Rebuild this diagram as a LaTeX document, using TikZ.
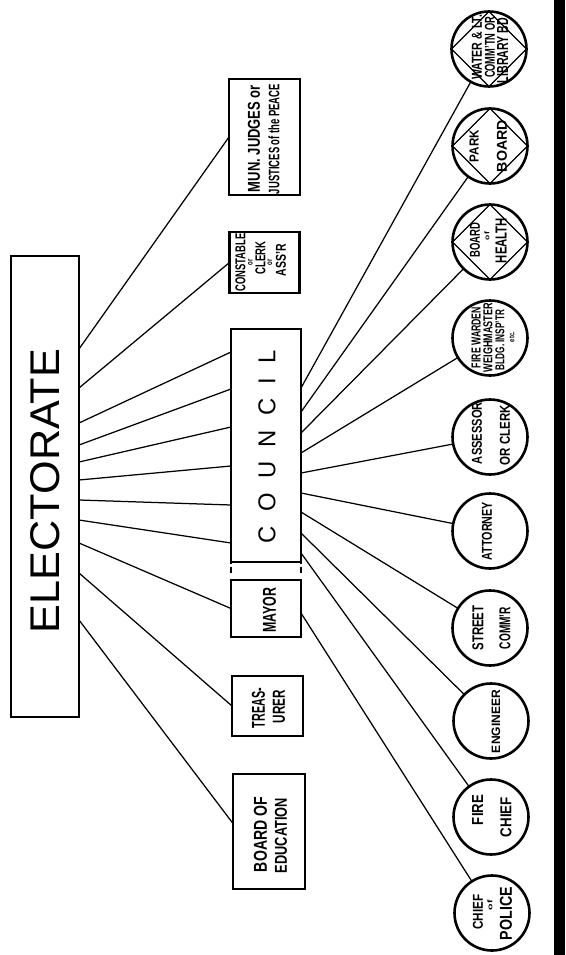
\documentclass[tikz,border=0pt]{standalone}
\usepackage{fontspec}
\setmainfont{Liberation Sans}
\usepackage{graphicx}

% one line of lettering, stretched to a given length and cap height
\newcommand\fitline[3]{\resizebox{#1pt}{#2pt}{#3}}

\tikzset{
  frame/.style={draw, line width=2.6pt, inner sep=0pt, outer sep=0pt},
  ring/.style={circle, draw, line width=2.6pt, minimum size=75pt, inner sep=0pt, outer sep=0pt},
  lbl/.style={rotate=90, inner sep=0pt, font=\bfseries},
  title/.style={rotate=90, inner sep=0pt},
  wire/.style={line width=1.25pt},
  rhomb/.style={line width=1.2pt},
}

\begin{document}
\begin{tikzpicture}[x=1pt, y=-1pt]
\useasboundingbox (0,0) rectangle (565,955);

% heavy rule on the right margin
\fill (554,0) rectangle (565,955);

% ---- boxes ----
\node[frame, minimum width=68pt, minimum height=461pt] (elect) at (45,486.5) {};
\node[frame, minimum width=71pt, minimum height=116pt] (mun) at (264.5,137) {};
\node[frame, minimum width=70pt, minimum height=61pt] (const) at (264.5,262.5) {};
\node[frame, minimum width=70pt, minimum height=233pt] (council) at (266,445.5) {};
\node[frame, minimum width=70pt, minimum height=57pt] (mayor) at (266,608.5) {};
\node[frame, minimum width=71pt, minimum height=60pt] (treas) at (267.5,706) {};
\node[frame, minimum width=72pt, minimum height=115pt] (boe) at (269,831.5) {};

% broken link between council and mayor
\draw[line width=1.6pt, dash pattern=on 1.5pt off 3pt on 6pt off 20pt] (council.south west) -- (mayor.north west);
\draw[line width=1.6pt, dash pattern=on 1.5pt off 3pt on 6pt off 20pt] (council.south east) -- (mayor.north east);

% ---- circles ----
\node[ring] (water) at (489,49) {};
\node[ring] (park) at (490,146) {};
\node[ring] (health) at (490,242) {};
\node[ring] (warden) at (490,338) {};
\node[ring] (assessor) at (490,437) {};
\node[ring] (attorney) at (490,531) {};
\node[ring] (street) at (490,628) {};
\node[ring] (engineer) at (491,721) {};
\node[ring] (firechief) at (491,817) {};
\node[ring] (police) at (492,913) {};

% inscribed diamonds of the boards
\foreach \c in {water, park, health}
  \draw[rhomb] (\c.north) -- (\c.east) -- (\c.south) -- (\c.west) -- cycle;

% ---- electorate to elected offices ----
\draw[wire] ([yshift=-93pt]elect.north east) -- (mun.west);
\draw[wire] ([yshift=-132pt]elect.north east) -- (const.west);
\draw[wire] ([yshift=-167pt]elect.north east) -- ([yshift=-23pt]council.north west);
\draw[wire] ([yshift=-189pt]elect.north east) -- ([yshift=-60pt]council.north west);
\draw[wire] ([yshift=-206pt]elect.north east) -- ([yshift=-98pt]council.north west);
\draw[wire] ([yshift=-224pt]elect.north east) -- ([yshift=-137pt]council.north west);
\draw[wire] ([yshift=-244pt]elect.north east) -- ([yshift=-176pt]council.north west);
\draw[wire] ([yshift=-264pt]elect.north east) -- ([yshift=-214pt]council.north west);
\draw[wire] ([yshift=-287pt]elect.north east) -- (mayor.west);
\draw[wire] ([yshift=-317pt]elect.north east) -- (treas.west);
\draw[wire] ([yshift=-364pt]elect.north east) -- ([yshift=8pt]boe.west);

% ---- council and mayor to appointed offices ----
\draw[wire] ([yshift=-59pt]council.north east) -- (water);
\draw[wire] ([yshift=-83pt]council.north east) -- (park);
\draw[wire] ([yshift=-104pt]council.north east) -- (health);
\draw[wire] ([yshift=-124pt]council.north east) -- (warden);
\draw[wire] ([yshift=-144pt]council.north east) -- (assessor);
\draw[wire] ([yshift=-164pt]council.north east) -- (attorney);
\draw[wire] ([yshift=-183pt]council.north east) -- (street);
\draw[wire] ([yshift=-204pt]council.north east) -- (engineer);
\draw[wire] ([yshift=-224pt]council.north east) -- (firechief);
\draw[wire] ([yshift=-4.5pt]mayor.east) -- (police);

% ---- lettering ----
\node[title] (electT) at (45,491) {\fitline{284}{29}{ELECTORATE}};
\node[title] (councilT) at (267,446.5) {\fitline{193}{17}{C\hspace{6pt}O\hspace{6pt}U\hspace{6pt}N\hspace{6pt}C\hspace{6pt}I\hspace{6pt}L}};

\node[lbl] (munA) at (254,138.5) {\fitline{107}{12}{MUN. JUDGES or}};
\node[lbl] (munB) at (274,139) {\fitline{110}{11}{JUSTICES of the PEACE}};

\node[lbl] (constA) at (240.5,262.5) {\fitline{58}{10}{CONSTABLE}};
\node[lbl] (constB) at (250.5,262) {\fitline{6}{4.5}{or}};
\node[lbl] (constC) at (260.5,258) {\fitline{33}{10}{CLERK}};
\node[lbl] (constD) at (270,262) {\fitline{6}{4.5}{or}};
\node[lbl] (constE) at (281,260) {\fitline{32}{10}{ASS'R}};

\node[lbl] (mayorT) at (269.5,610) {\fitline{45}{13}{MAYOR}};
\node[lbl] (treasA) at (258.5,708) {\fitline{40}{13}{TREAS-}};
\node[lbl] (treasB) at (279,706.5) {\fitline{33}{12}{URER}};
\node[lbl] (boeA) at (260.5,834.5) {\fitline{75}{13}{BOARD OF}};
\node[lbl] (boeB) at (281,835.5) {\fitline{75}{12}{EDUCATION}};

\node[lbl] (waterA) at (477,47.5) {\fitline{65}{10}{WATER \& LT.}};
\node[lbl] (waterB) at (490,47.5) {\fitline{61}{10}{COMM'TN OR}};
\node[lbl] (waterC) at (502.5,50.5) {\fitline{65}{11}{LIBRARY BD}};

\node[lbl] (parkA) at (474,146) {\fitline{32}{9}{PARK}};
\node[lbl] (parkB) at (502,146) {\fitline{52}{10}{BOARD}};

\node[lbl] (healthA) at (475,240) {\fitline{35}{10}{BOARD}};
\node[lbl] (healthB) at (487,236) {\fitline{8}{5}{of}};
\node[lbl] (healthC) at (501,240.5) {\fitline{45}{11}{HEALTH}};

\node[lbl] (wardenA) at (476,337.5) {\fitline{61}{9}{FIRE WARDEN}};
\node[lbl] (wardenB) at (488,337.5) {\fitline{69}{9}{WEIGHMASTER}};
\node[lbl] (wardenC) at (500,340) {\fitline{60}{9}{BLDG. INSP'TR}};
\node[lbl] (wardenD) at (512,337) {\fitline{10}{5}{etc.}};

\node[lbl] (assessorA) at (477,433) {\fitline{62}{10}{ASSESSOR}};
\node[lbl] (assessorB) at (505,435) {\fitline{60}{10}{OR CLERK}};

\node[lbl] (attorneyT) at (487,531) {\fitline{58}{10}{ATTORNEY}};

\node[lbl] (streetA) at (478,628) {\fitline{45}{11}{STREET}};
\node[lbl] (streetB) at (505,628) {\fitline{42}{11}{COMM'R}};

\node[lbl] (engineerT) at (496,721.5) {\fitline{63}{8.5}{ENGINEER}};

\node[lbl] (fireA) at (477.5,810) {\fitline{30}{11}{FIRE}};
\node[lbl] (fireB) at (506,817) {\fitline{40}{11}{CHIEF}};

\node[lbl] (policeA) at (478,912) {\fitline{35}{10}{CHIEF}};
\node[lbl] (policeB) at (490,905) {\fitline{10}{5}{of}};
\node[lbl] (policeC) at (506,913.5) {\fitline{53}{12}{POLICE}};
\end{tikzpicture}
\end{document}
